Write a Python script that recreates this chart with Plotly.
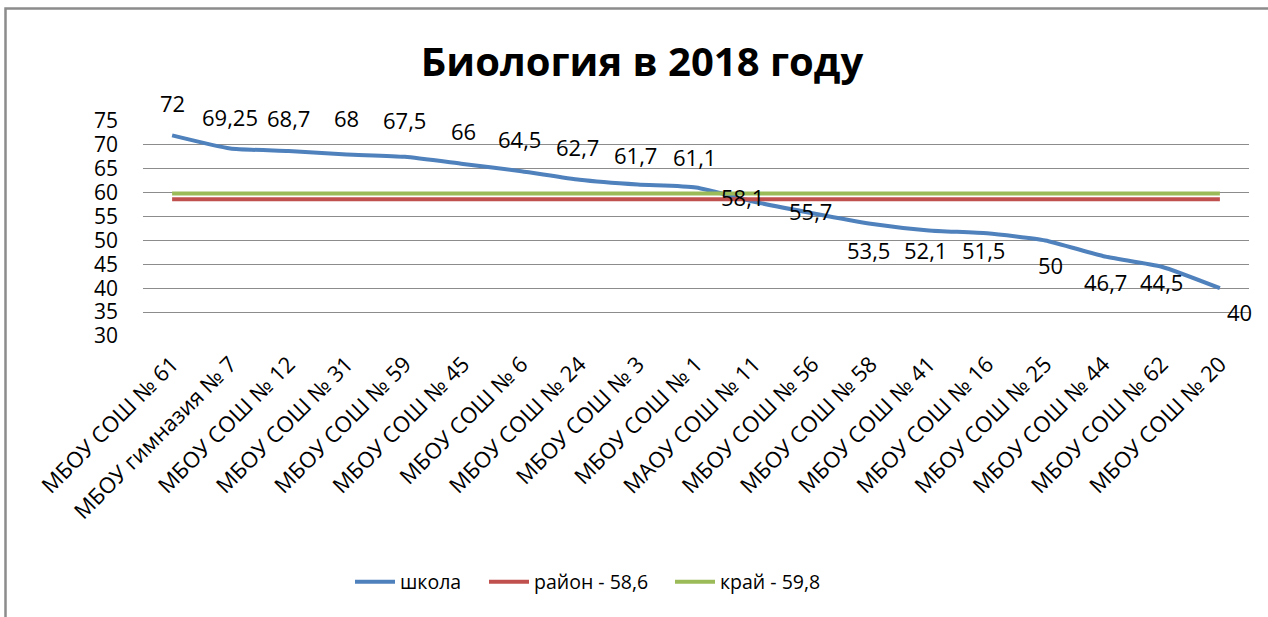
import plotly.graph_objects as go

schools = ["МБОУ СОШ № 61", "МБОУ гимназия № 7", "МБОУ СОШ № 12", "МБОУ СОШ № 31",
           "МБОУ СОШ № 59", "МБОУ СОШ № 45", "МБОУ СОШ № 6", "МБОУ СОШ № 24",
           "МБОУ СОШ № 3", "МБОУ СОШ № 1", "МАОУ СОШ № 11", "МБОУ СОШ № 56",
           "МБОУ СОШ № 58", "МБОУ СОШ № 41", "МБОУ СОШ № 16", "МБОУ СОШ № 25",
           "МБОУ СОШ № 44", "МБОУ СОШ № 62", "МБОУ СОШ № 20"]
school_scores = [72, 69.25, 68.7, 68, 67.5, 66, 64.5, 62.7, 61.7, 61.1,
                 58.1, 55.7, 53.5, 52.1, 51.5, 50, 46.7, 44.5, 40]
district_score = 58.6
region_score = 59.8
y_ticks = [30, 35, 40, 45, 50, 55, 60, 65, 70, 75]
series_names = ["школа", "район - 58,6", "край - 59,8"]

# label offsets (pixels) relative to each point: style only
label_dx = [0, 0, 0, 0, 0, 0, -2, -2, -2, -2, -12, -2, -2, -3, -4, 5, 2, 0, 20]
label_dy = [32, 31, 33, 36, 37, 33, 32, 33, 30, 30, 5, 2, -26, -20, -17, -25, -26, -15, -24]

FONT = "Open Sans"
W, H = 1268, 617
L, R, T, B = 143, 1268 - 1249, 121, 617 - 336
pw, ph = W - L - R, H - T - B
def px(x):
    return (x - L) / pw
def py(y):
    return (H - B - y) / ph

fig = go.Figure()
fig.add_trace(go.Scatter(x=schools, y=school_scores, mode="lines", name=series_names[0],
                         legend="legend",
                         line=dict(color="#4F81BD", width=4, shape="spline", smoothing=0.5)))
fig.add_trace(go.Scatter(x=schools, y=[district_score] * len(schools), mode="lines",
                         name=series_names[1], legend="legend2",
                         line=dict(color="#C0504D", width=4)))
fig.add_trace(go.Scatter(x=schools, y=[region_score] * len(schools), mode="lines",
                         name=series_names[2], legend="legend3",
                         line=dict(color="#9BBB59", width=4)))

for s, v, dx, dy in zip(schools, school_scores, label_dx, label_dy):
    fig.add_annotation(x=s, y=v, text=str(v).replace(".", ","), showarrow=False,
                       xshift=dx, yshift=dy, font=dict(family=FONT, size=22, color="#000"))

fig.add_shape(type="rect", xref="paper", yref="paper",
              x0=px(5.5), x1=px(1290), y0=py(640), y1=py(8.5),
              line=dict(color="#8C8C8C", width=2.5), layer="below")

def leg(xpix):
    return dict(orientation="h", x=px(xpix), xanchor="left", y=py(582), yanchor="middle",
                font=dict(family=FONT, size=19.5, color="#000"), itemwidth=40,
                bgcolor="rgba(0,0,0,0)")

fig.update_layout(
    width=W, height=H,
    margin=dict(l=L, r=R, t=T, b=B),
    paper_bgcolor="white", plot_bgcolor="white",
    title=dict(text="<b>Биология в 2018 году</b>", x=px(642), xref="paper", xanchor="center",
               y=1 - 62 / H, yref="container", yanchor="middle",
               font=dict(family=FONT, size=40, color="#000")),
    font=dict(family=FONT, color="#000"),
    showlegend=True,
    legend=leg(350), legend2=leg(484), legend3=leg(670),
    xaxis=dict(showgrid=False, showline=False, zeroline=False, tickangle=-45,
               tickfont=dict(family=FONT, size=22, color="#000"), ticks="",
               ticklabelstandoff=10,
               range=[-0.5, len(schools) - 0.5]),
    yaxis=dict(range=[30, 75], tickvals=y_ticks, showgrid=True, gridcolor="#8C8C8C",
               gridwidth=1, zeroline=False, showline=False, ticks="",
               ticklabelstandoff=24,
               tickfont=dict(family=FONT, size=21, color="#000")),
)
fig.write_html("out.html", config={"displayModeBar": False},
               post_script="document.body.style.margin='0';")
